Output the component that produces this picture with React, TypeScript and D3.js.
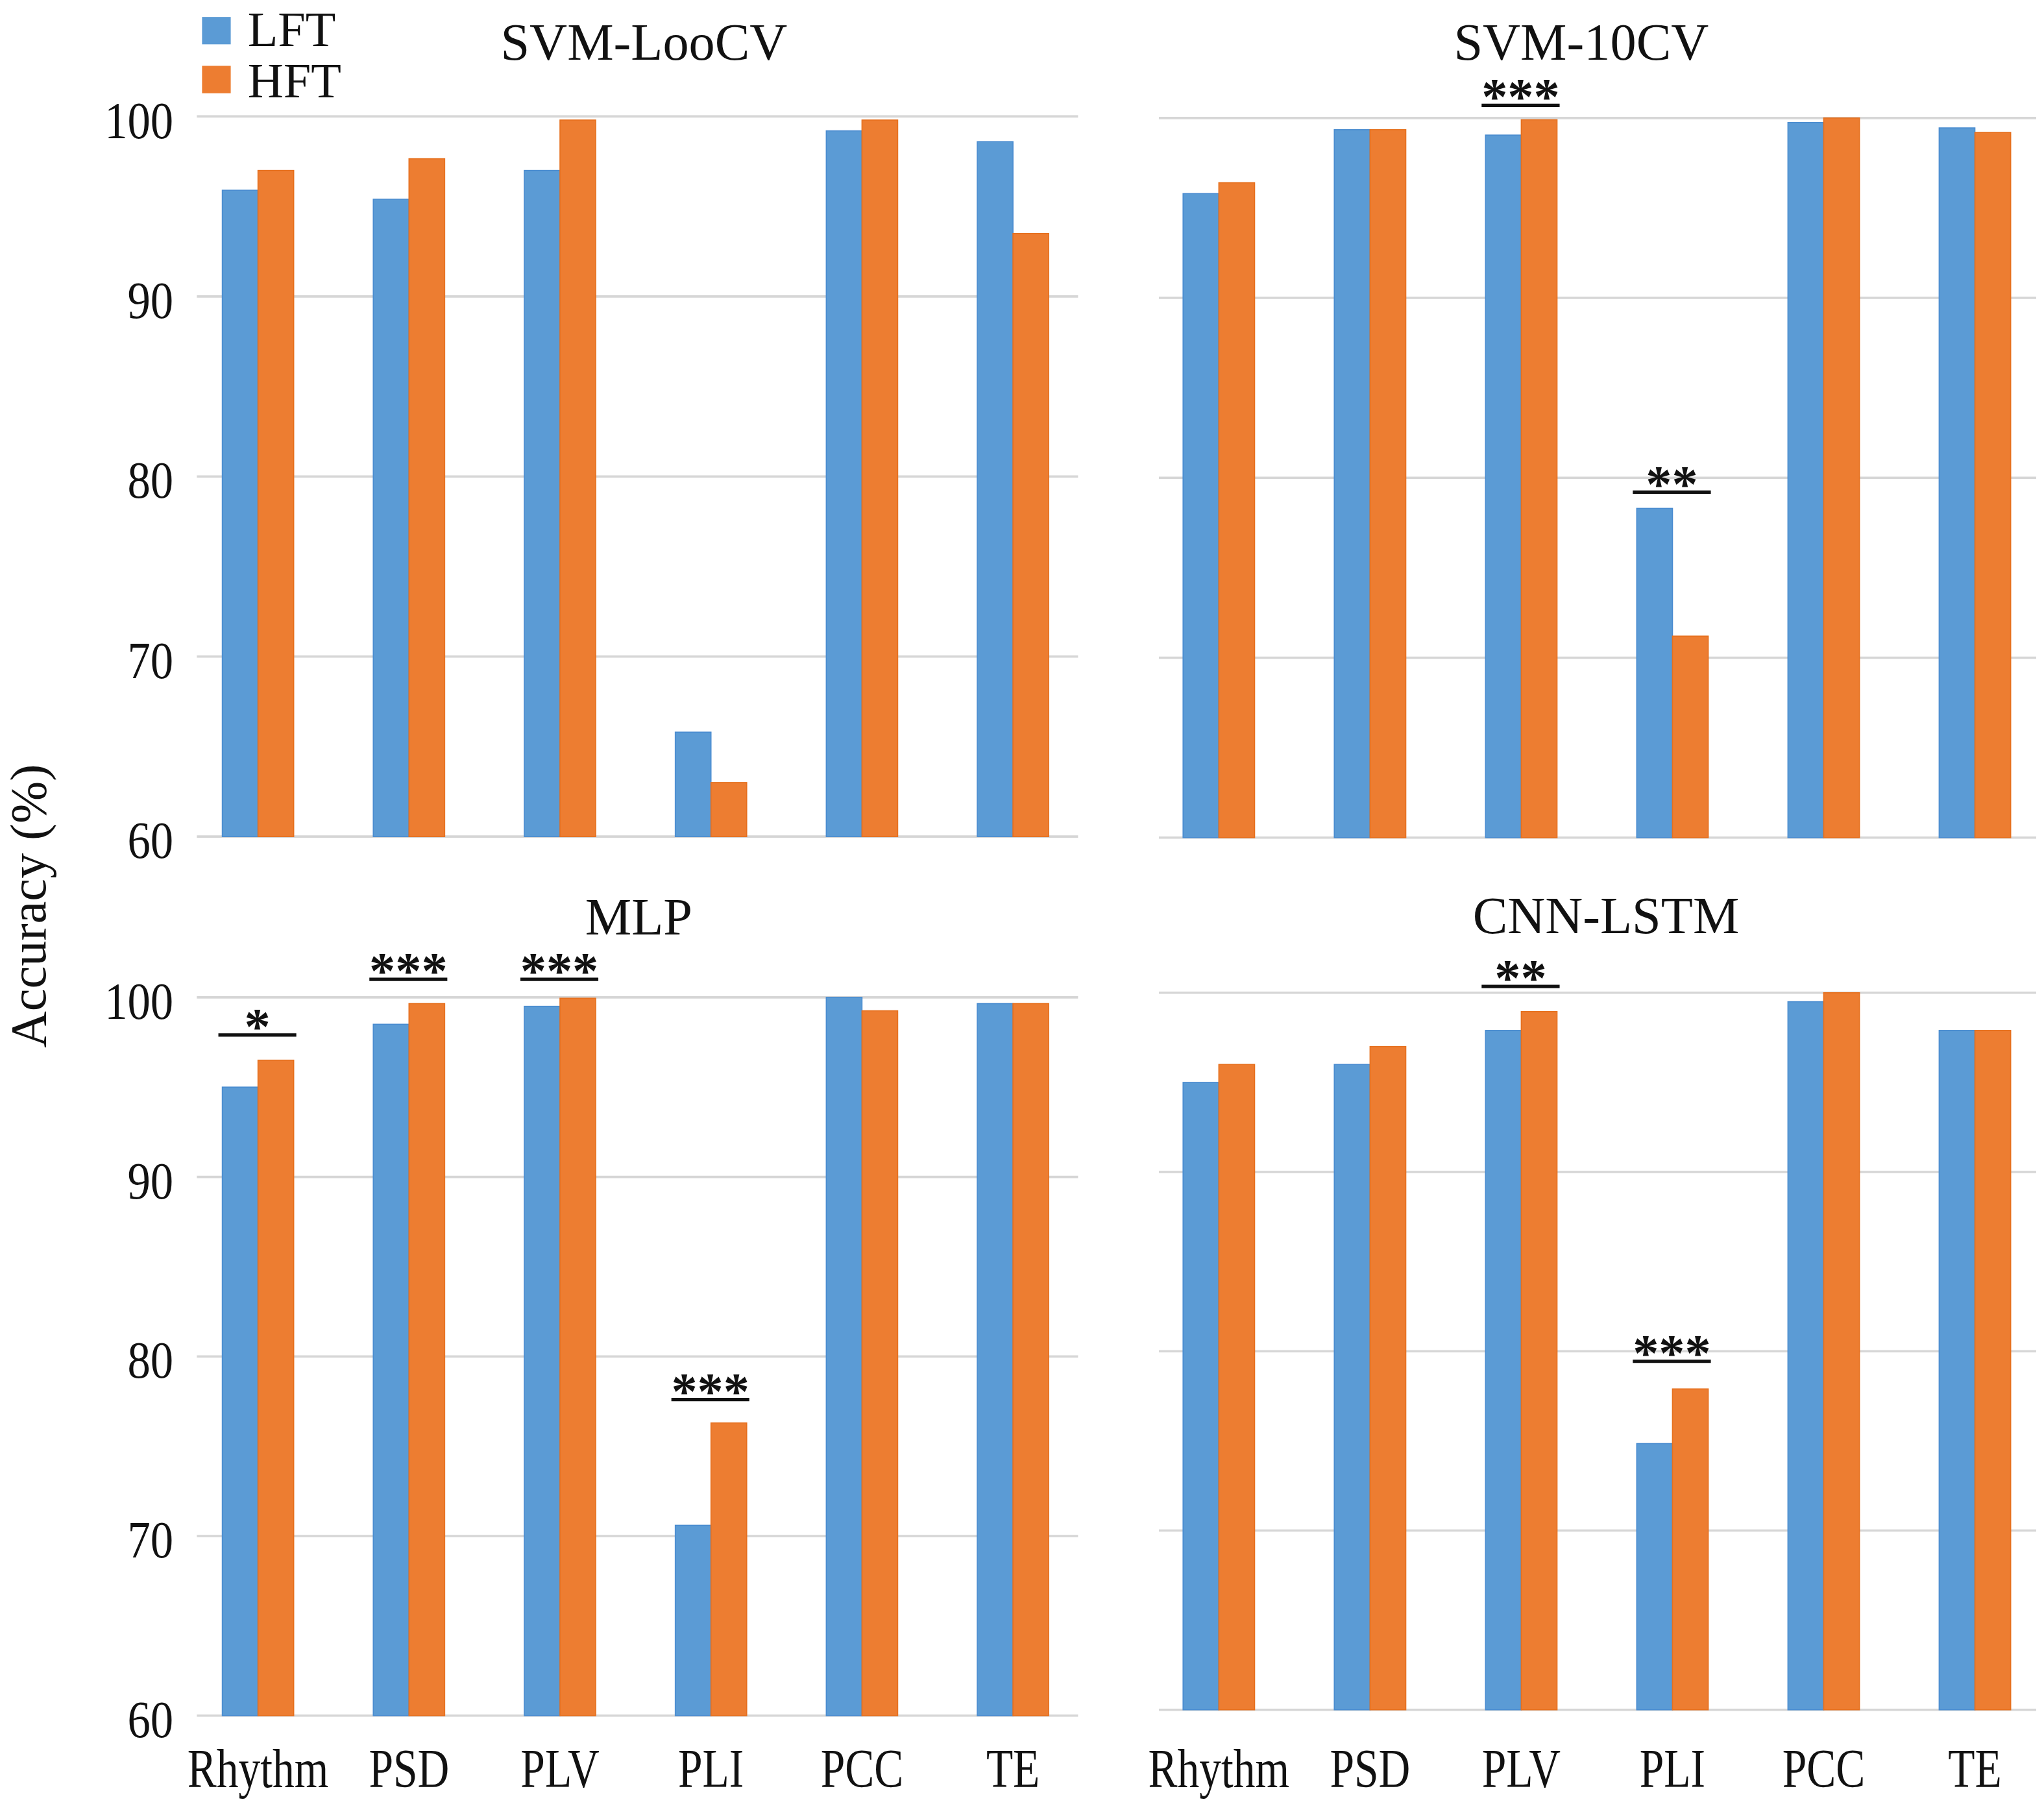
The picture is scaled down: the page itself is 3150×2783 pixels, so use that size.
import React from "react";
import * as d3 from "d3";

// ---------- data ----------
const categories = ["Rhythm", "PSD", "PLV", "PLI", "PCC", "TE"];
const seriesNames = ["LFT", "HFT"];
const seriesColors = ["#5B9BD5", "#ED7D31"];
const seriesEdges = ["#4A8CD0", "#E6701E"];
const yTicks = [60, 70, 80, 90, 100];

const svmLooLFT = [95.9, 95.4, 97.0, 65.8, 99.2, 98.6];
const svmLooHFT = [97.0, 97.65, 99.8, 63.0, 99.8, 93.5];

const svm10LFT = [95.8, 99.35, 99.05, 78.3, 99.75, 99.45];
const svm10HFT = [96.4, 99.35, 99.9, 71.2, 100.0, 99.2];

const mlpLFT = [95.0, 98.5, 99.5, 70.6, 100.0, 99.65];
const mlpHFT = [96.5, 99.65, 99.95, 76.3, 99.25, 99.65];

const cnnLFT = [95.0, 96.0, 97.9, 74.85, 99.5, 97.9];
const cnnHFT = [96.0, 97.0, 98.95, 77.9, 100.0, 97.9];

// significance marks: category, stars, level (in accuracy units) of the bar
const svmLooSig: { cat: string; stars: string; level: number }[] = [];
const svm10Sig = [
  { cat: "PLV", stars: "***", level: 100.7 },
  { cat: "PLI", stars: "**", level: 79.2 },
];
const mlpSig = [
  { cat: "Rhythm", stars: "*", level: 97.9 },
  { cat: "PSD", stars: "***", level: 101.0 },
  { cat: "PLV", stars: "***", level: 101.0 },
  { cat: "PLI", stars: "***", level: 77.6 },
];
const cnnSig = [
  { cat: "PLV", stars: "**", level: 100.35 },
  { cat: "PLI", stars: "***", level: 79.44 },
];

const panelTitles = ["SVM-LooCV", "SVM-10CV", "MLP", "CNN-LSTM"];

// ---------- layout (viewBox units) ----------
const VW = 1568;
const VH = 1385.3;
const FONT = "'Liberation Serif', 'Times New Roman', Times, serif";

type Panel = {
  title: string;
  lft: number[];
  hft: number[];
  sig: { cat: string; stars: string; level: number }[];
  band: [number, number];
  grid: [number, number];
  y: [number, number]; // y at 60, y at 100
  titleX: number;
  titleY: number;
  tickLabels: boolean;
  xLabels: boolean;
};

const panels: Panel[] = [
  {
    title: panelTitles[0], lft: svmLooLFT, hft: svmLooHFT, sig: svmLooSig,
    band: [140, 835], grid: [151, 827], y: [641.7, 89.3],
    titleX: 494, titleY: 46, tickLabels: true, xLabels: false,
  },
  {
    title: panelTitles[1], lft: svm10LFT, hft: svm10HFT, sig: svm10Sig,
    band: [877, 1573], grid: [889, 1562], y: [642.5, 90.5],
    titleX: 1213, titleY: 46, tickLabels: false, xLabels: false,
  },
  {
    title: panelTitles[2], lft: mlpLFT, hft: mlpHFT, sig: mlpSig,
    band: [140, 835], grid: [151, 827], y: [1316, 765],
    titleX: 490, titleY: 717, tickLabels: true, xLabels: true,
  },
  {
    title: panelTitles[3], lft: cnnLFT, hft: cnnHFT, sig: cnnSig,
    band: [877, 1573], grid: [889, 1562], y: [1311.5, 761.5],
    titleX: 1232, titleY: 716, tickLabels: false, xLabels: true,
  },
];

function PanelView({ p }: { p: Panel }) {
  const x = d3
    .scaleBand<string>()
    .domain(categories)
    .range(p.band)
    .paddingInner(0.527)
    .paddingOuter(0.2635);
  const xs = d3
    .scaleBand<string>()
    .domain(seriesNames)
    .range([0, x.bandwidth()])
    .padding(0);
  const y = d3.scaleLinear().domain([60, 100]).range(p.y);
  const seriesVals = [p.lft, p.hft];

  return (
    <g>
      {/* gridlines */}
      {yTicks.map((t) => (
        <line
          key={"g" + t}
          x1={p.grid[0]}
          x2={p.grid[1]}
          y1={y(t)}
          y2={y(t)}
          stroke="#d6d6d6"
          strokeWidth={1.8}
        />
      ))}
      {/* tick labels */}
      {p.tickLabels &&
        yTicks.map((t) => (
          <text
            key={"t" + t}
            transform={`translate(133, ${y(t) + 16.5}) scale(0.88, 1)`}
            textAnchor="end"
            fontSize={40}
            fontFamily={FONT}
            fill="#111"
          >
            {t}
          </text>
        ))}
      {/* bars */}
      {categories.map((c, i) => (
        <g key={c}>
          {seriesNames.map((s, k) => {
            const v = seriesVals[k][i];
            const bx = (x(c) as number) + (xs(s) as number);
            return (
              <rect
                key={s}
                x={bx}
                y={y(v)}
                width={xs.bandwidth()}
                height={y(60) - y(v)}
                fill={seriesColors[k]}
                stroke={seriesEdges[k]}
                strokeWidth={0.8}
              />
            );
          })}
        </g>
      ))}
      {/* significance */}
      {p.sig.map((m) => {
        const x0 = (x(m.cat) as number) - 3;
        const x1 = (x(m.cat) as number) + x.bandwidth() + 2;
        const ly = y(m.level);
        return (
          <g key={"s" + m.cat}>
            <line x1={x0} x2={x1} y1={ly} y2={ly} stroke="#111" strokeWidth={2.6} />
            <text
              x={(x0 + x1) / 2}
              y={ly + 7}
              textAnchor="middle"
              fontSize={40}
              fontWeight="bold"
              fontFamily={FONT}
              fill="#111"
            >
              {m.stars}
            </text>
          </g>
        );
      })}
      {/* x labels */}
      {p.xLabels &&
        categories.map((c) => (
          <text
            key={"x" + c}
            transform={`translate(${(x(c) as number) + x.bandwidth() / 2}, 1371) scale(0.8, 1)`}
            textAnchor="middle"
            fontSize={42}
            fontFamily={FONT}
            fill="#111"
          >
            {c}
          </text>
        ))}
      {/* title */}
      <text
        x={p.titleX}
        y={p.titleY}
        textAnchor="middle"
        fontSize={40}
        fontFamily={FONT}
        fill="#111"
      >
        {p.title}
      </text>
    </g>
  );
}

export default function App() {
  return (
    <svg
      width={3150}
      height={2783}
      viewBox={`0 0 ${VW} ${VH}`}
      style={{ position: "absolute", left: 0, top: 0, background: "#fff", display: "block" }}
    >
      <rect x={0} y={0} width={VW} height={VH} fill="#fff" />
      {panels.map((p) => (
        <PanelView key={p.title} p={p} />
      ))}
      {/* legend */}
      {seriesNames.map((s, k) => (
        <g key={"l" + s}>
          <rect x={155} y={13 + k * 37.5} width={22} height={21} fill={seriesColors[k]} />
          <text
            x={190}
            y={35.5 + k * 39}
            fontSize={38}
            fontFamily={FONT}
            fill="#111"
          >
            {s}
          </text>
        </g>
      ))}
      {/* y axis title */}
      <text
        transform="translate(35, 695) rotate(-90)"
        textAnchor="middle"
        fontSize={39}
        fontFamily={FONT}
        fill="#111"
      >
        Accuracy (%)
      </text>
    </svg>
  );
}
